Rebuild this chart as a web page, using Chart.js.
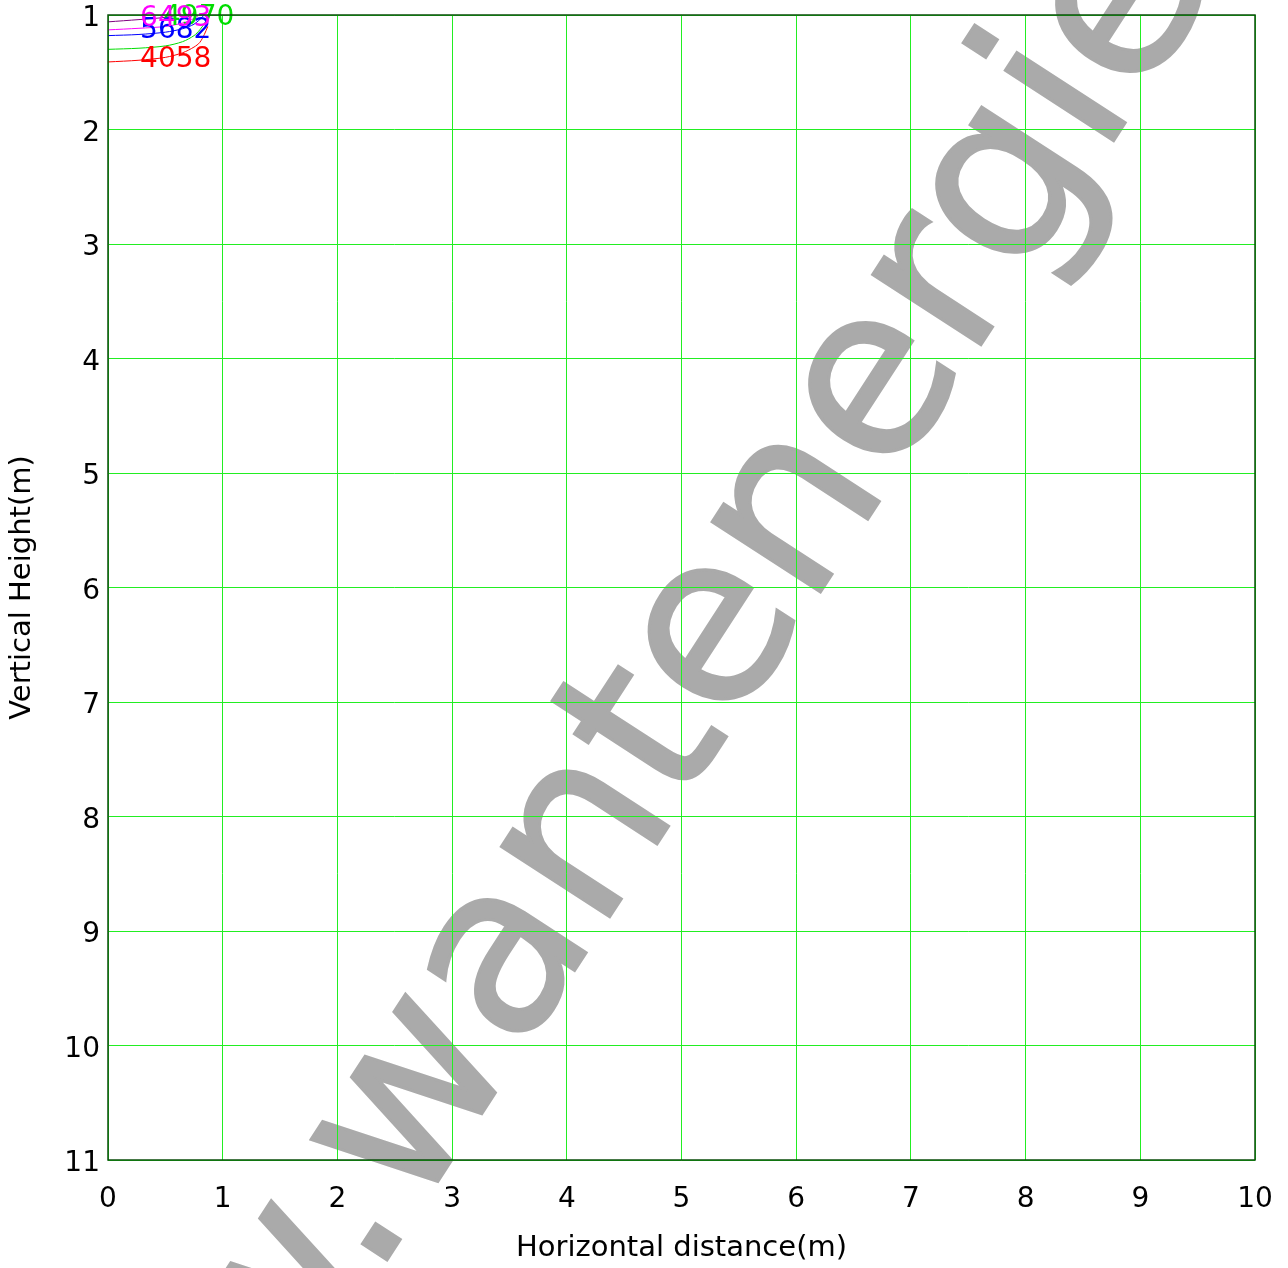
<!DOCTYPE html>
<html>
<head>
<meta charset="utf-8">
<script src="https://cdn.jsdelivr.net/npm/chart.js@4/dist/chart.umd.min.js"></script>
<style>
  html, body { margin: 0; padding: 0; background: #fff; }
  #wrap { width: 1288px; height: 1268px; position: relative; }
</style>
</head>
<body>
<div id="wrap"><canvas id="trajChart"></canvas></div>
<script>
// horizontal distance (m) for each curve point
const xPurple  = [0, 0.27, 0.5, 0.65, 0.75];
const yPurple  = [1.06, 1.04, 1.02, 0.99, 0.95];
const xMagenta = [0, 0.27, 0.5, 0.65, 0.75, 0.82, 0.87];
const yMagenta = [1.13, 1.116, 1.10, 1.07, 1.03, 0.98, 0.93];
const xBlue    = [0, 0.27, 0.5, 0.65, 0.75, 0.82, 0.87];
const yBlue    = [1.18, 1.17, 1.15, 1.12, 1.08, 1.02, 0.96];
const xGreen   = [0, 0.27, 0.5, 0.65, 0.75, 0.8, 0.85, 0.88];
const yGreen   = [1.30, 1.29, 1.27, 1.233, 1.18, 1.13, 1.06, 1.0];
const xRed     = [0, 0.27, 0.5, 0.65, 0.75, 0.8, 0.84, 0.87];
const yRed     = [1.41, 1.395, 1.37, 1.33, 1.28, 1.24, 1.17, 1.1];

const seriesColors = ['#800080', '#ff00ff', '#0000ff', '#00dd00', '#ff0000'];
const curveLabels  = ['', '6493', '5682', '4970', '4058'];
const labelX       = [0, 0.28, 0.28, 0.48, 0.28];
const labelY       = [0, 1.095, 1.20, 1.087, 1.454];

const xTicks = [0, 1, 2, 3, 4, 5, 6, 7, 8, 9, 10];
const yTicks = [1, 2, 3, 4, 5, 6, 7, 8, 9, 10, 11];

const FONT = "'DejaVu Sans', Verdana, sans-serif";

function pts(xs, ys) {
    return xs.map((x, i) => ({ x: x, y: ys[i] }));
}

const allX = [xPurple, xMagenta, xBlue, xGreen, xRed];
const allY = [yPurple, yMagenta, yBlue, yGreen, yRed];

const watermark = {
    id: 'watermark',
    beforeDraw(chart) {
        const ctx = chart.ctx;
        ctx.save();
        ctx.translate(414, 1218);
        ctx.rotate(-57 * Math.PI / 180);
        ctx.font = "236px 'DejaVu Sans', sans-serif";
        ctx.fillStyle = '#aaaaaa';
        ctx.strokeStyle = '#aaaaaa';
        ctx.lineWidth = 3;
        ctx.textBaseline = 'alphabetic';
        ctx.textAlign = 'left';
        ctx.fillText('wantenergie.com', 0, 0);
        ctx.strokeText('wantenergie.com', 0, 0);
        ctx.textAlign = 'right';
        ctx.fillText('www.', 0, 0);
        ctx.strokeText('www.', 0, 0);
        ctx.restore();
    }
};

const frame = {
    id: 'frame',
    afterDraw(chart) {
        const a = chart.chartArea, ctx = chart.ctx;
        ctx.save();
        ctx.strokeStyle = '#0b4d0b';
        ctx.lineWidth = 1.5;
        ctx.strokeRect(a.left, a.top, a.right - a.left, a.bottom - a.top);
        ctx.restore();
    }
};

// value labels, drawn bottom curve first so the upper ones sit on top
const curveText = {
    id: 'curveText',
    afterDatasetsDraw(chart) {
        const ctx = chart.ctx, xs = chart.scales.x, ys = chart.scales.y;
        ctx.save();
        ctx.font = '28px ' + FONT;
        ctx.textAlign = 'left';
        ctx.textBaseline = 'alphabetic';
        for (let i = curveLabels.length - 1; i >= 0; i--) {
            if (!curveLabels[i]) continue;
            ctx.fillStyle = seriesColors[i];
            ctx.fillText(curveLabels[i], xs.getPixelForValue(labelX[i]), ys.getPixelForValue(labelY[i]));
        }
        ctx.restore();
    }
};

const ctx = document.getElementById('trajChart').getContext('2d');
new Chart(ctx, {
    type: 'scatter',
    data: {
        datasets: allX.map((xs, i) => ({
            data: pts(xs, allY[i]),
            borderColor: seriesColors[i],
            borderWidth: 1,
            showLine: true,
            tension: 0.3,
            pointRadius: 0
        }))
    },
    options: {
        responsive: true,
        maintainAspectRatio: false,
        animation: false,
        layout: { padding: { top: 15, right: 33, left: 0, bottom: 0 } },
        plugins: { legend: { display: false }, tooltip: { enabled: false } },
        scales: {
            x: {
                type: 'linear', min: 0, max: 10,
                afterBuildTicks: s => { s.ticks = xTicks.map(v => ({ value: v })); },
                afterFit: s => { s.height = 108; s.paddingLeft = 0; s.paddingRight = 0; },
                grid: { color: '#22ee22', lineWidth: 1, drawTicks: false },
                border: { display: false },
                ticks: { color: '#000', padding: 23, font: { family: FONT, size: 28 } },
                title: {
                    display: true, text: 'Horizontal distance(m)', color: '#000',
                    font: { family: FONT, size: 29 }, padding: { top: 0, bottom: 2 }
                }
            },
            y: {
                type: 'linear', min: 1, max: 11, reverse: true,
                afterBuildTicks: s => { s.ticks = yTicks.map(v => ({ value: v })); },
                afterFit: s => { s.width = 108; s.paddingTop = 0; s.paddingBottom = 0; },
                grid: { color: '#22ee22', lineWidth: 1, drawTicks: false },
                border: { display: false },
                ticks: { color: '#000', padding: 8, labelOffset: 4, font: { family: FONT, size: 28 } },
                title: {
                    display: true, text: 'Vertical Height(m)', color: '#000',
                    font: { family: FONT, size: 29 }, padding: { top: 5, bottom: 0 }
                }
            }
        }
    },
    plugins: [watermark, frame, curveText]
});
</script>
</body>
</html>
